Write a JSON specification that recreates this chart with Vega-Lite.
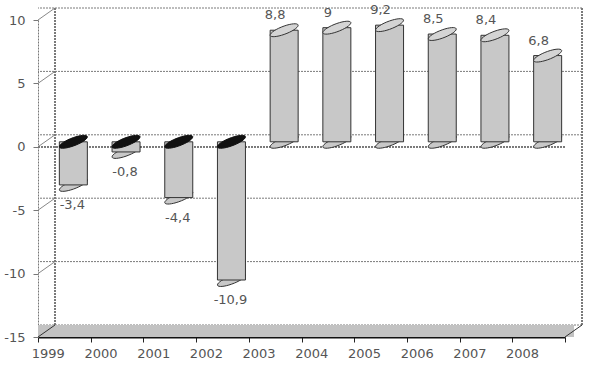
{
  "$schema": "https://vega.github.io/schema/vega-lite/v6.json",
  "width": 527,
  "height": 317,
  "autosize": {"type": "none"},
  "padding": {"left": 38, "top": 20, "right": 24, "bottom": 40},
  "background": "white",
  "config": {"view": {"stroke": null}, "font": "DejaVu Sans"},
  "datasets": {
    "growth": [
      {"year": "1999", "value": -3.4, "label": "-3,4"},
      {"year": "2000", "value": -0.8, "label": "-0,8"},
      {"year": "2001", "value": -4.4, "label": "-4,4"},
      {"year": "2002", "value": -10.9, "label": "-10,9"},
      {"year": "2003", "value": 8.8, "label": "8,8"},
      {"year": "2004", "value": 9, "label": "9"},
      {"year": "2005", "value": 9.2, "label": "9,2"},
      {"year": "2006", "value": 8.5, "label": "8,5"},
      {"year": "2007", "value": 8.4, "label": "8,4"},
      {"year": "2008", "value": 6.8, "label": "6,8"}
    ],
    "ticks": [{"t": 10}, {"t": 5}, {"t": 0}, {"t": -5}, {"t": -10}, {"t": -15}]
  },
  "layer": [
    {
      "data": {"name": "ticks"},
      "mark": {"type": "rule", "color": "#7a7a7a", "strokeDash": [2, 1], "xOffset": 17, "x2Offset": 17, "yOffset": -12},
      "encoding": {
        "y": {
          "field": "t", "type": "quantitative",
          "scale": {"domain": [-15, 10], "nice": false, "zero": false},
          "axis": {"title": null, "grid": false, "values": [-15, -10, -5, 0, 5, 10], "domainColor": "#777", "domainDash": [2, 1], "tickColor": "#777", "tickSize": 5, "labelPadding": 8, "labelFontSize": 13, "labelColor": "#555", "labelExpr": "'' + datum.value"}
        }
      }
    },
    {
      "data": {"name": "growth"},
      "transform": [{"filter": "datum.year == '1999'"}],
      "mark": {"type": "rule", "color": "#888", "x2Offset": 17, "y2Offset": -12},
      "encoding": {"x": {"datum": "1999", "bandPosition": 0}, "x2": {"datum": "1999", "bandPosition": 0}, "y": {"datum": 10}, "y2": {"datum": 10}}
    },
    {
      "data": {"name": "growth"},
      "transform": [{"filter": "datum.year == '1999'"}],
      "mark": {"type": "rule", "color": "#888", "x2Offset": 17, "y2Offset": -12},
      "encoding": {"x": {"datum": "1999", "bandPosition": 0}, "x2": {"datum": "1999", "bandPosition": 0}, "y": {"datum": 5}, "y2": {"datum": 5}}
    },
    {
      "data": {"name": "growth"},
      "transform": [{"filter": "datum.year == '1999'"}],
      "mark": {"type": "rule", "color": "#888", "x2Offset": 17, "y2Offset": -12},
      "encoding": {"x": {"datum": "1999", "bandPosition": 0}, "x2": {"datum": "1999", "bandPosition": 0}, "y": {"datum": 0}, "y2": {"datum": 0}}
    },
    {
      "data": {"name": "growth"},
      "transform": [{"filter": "datum.year == '1999'"}],
      "mark": {"type": "rule", "color": "#888", "x2Offset": 17, "y2Offset": -12},
      "encoding": {"x": {"datum": "1999", "bandPosition": 0}, "x2": {"datum": "1999", "bandPosition": 0}, "y": {"datum": -5}, "y2": {"datum": -5}}
    },
    {
      "data": {"name": "growth"},
      "transform": [{"filter": "datum.year == '1999'"}],
      "mark": {"type": "rule", "color": "#888", "x2Offset": 17, "y2Offset": -12},
      "encoding": {"x": {"datum": "1999", "bandPosition": 0}, "x2": {"datum": "1999", "bandPosition": 0}, "y": {"datum": -10}, "y2": {"datum": -10}}
    },
    {
      "data": {"name": "growth"},
      "mark": {"type": "rule", "color": "#7a7a7a", "strokeDash": [2, 1], "xOffset": 17, "yOffset": -12, "y2Offset": -12},
      "encoding": {
        "x": {"datum": "1999", "bandPosition": 0},
        "y": {"datum": 10},
        "y2": {"datum": -15}
      }
    },
    {
      "data": {"name": "growth"},
      "mark": {"type": "rule", "color": "#7a7a7a", "strokeDash": [2, 1], "xOffset": 17, "yOffset": -12, "y2Offset": -12},
      "encoding": {
        "x": {"datum": "2008", "bandPosition": 1},
        "y": {"datum": 10},
        "y2": {"datum": -15}
      }
    },
    {
      "data": {"name": "growth"},
      "mark": {"type": "rule", "color": "#c2c2c2", "strokeWidth": 12, "xOffset": 9, "x2Offset": 9, "yOffset": -6},
      "encoding": {"y": {"datum": -15}}
    },
    {
      "data": {"name": "growth"},
      "transform": [{"filter": "datum.year == '1999'"}],
      "mark": {"type": "rule", "color": "#333", "x2Offset": 17, "y2Offset": -12},
      "encoding": {"x": {"datum": "1999", "bandPosition": 0}, "x2": {"datum": "1999", "bandPosition": 0}, "y": {"datum": -15}, "y2": {"datum": -15}}
    },
    {
      "data": {"name": "growth"},
      "transform": [{"filter": "datum.year == '2008'"}],
      "mark": {"type": "rule", "color": "#333", "x2Offset": 17, "y2Offset": -12},
      "encoding": {
        "x": {"datum": "2008", "bandPosition": 1},
        "x2": {"datum": "2008", "bandPosition": 1},
        "y": {"datum": -15},
        "y2": {"datum": -15}
      }
    },
    {
      "data": {"name": "growth"},
      "mark": {"type": "rule", "color": "#7a7a7a", "strokeDash": [2, 1]},
      "encoding": {"y": {"datum": 0}}
    },
    {
      "data": {"name": "growth"},
      "transform": [{"filter": "datum.value > 0"}],
      "mark": {"type": "point", "shape": "M1,-0.35C1,-0.1843,0.5523,0.1067,0,0.3C-0.5523,0.4933,-1,0.5157,-1,0.35C-1,0.1843,-0.5523,-0.1067,0,-0.3C0.5523,-0.4933,1,-0.5157,1,-0.35Z", "size": 784, "filled": true, "fill": "#c8c8c8", "stroke": "#333", "strokeWidth": 1, "opacity": 1, "xOffset": 9, "yOffset": -5},
      "encoding": {
        "x": {"field": "year", "type": "nominal"},
        "y": {"datum": 0}
      }
    },
    {
      "data": {"name": "growth"},
      "transform": [{"filter": "datum.value < 0"}],
      "mark": {"type": "point", "shape": "M1,-0.35C1,-0.1843,0.5523,0.1067,0,0.3C-0.5523,0.4933,-1,0.5157,-1,0.35C-1,0.1843,-0.5523,-0.1067,0,-0.3C0.5523,-0.4933,1,-0.5157,1,-0.35Z", "size": 784, "filled": true, "fill": "#c8c8c8", "stroke": "#333", "strokeWidth": 1, "opacity": 1, "xOffset": 9, "yOffset": -5},
      "encoding": {
        "x": {"field": "year", "type": "nominal"},
        "y": {"field": "value", "type": "quantitative"}
      }
    },
    {
      "data": {"name": "growth"},
      "mark": {"type": "bar", "width": 28, "fill": "#c8c8c8", "stroke": "#333", "strokeWidth": 1, "xOffset": 9, "yOffset": -5, "y2Offset": -5},
      "encoding": {
        "x": {
          "field": "year", "type": "nominal",
          "scale": {"paddingInner": 0, "paddingOuter": 0},
          "axis": {"title": null, "labelAngle": 0, "grid": false, "domainColor": "#111", "domainWidth": 2, "tickColor": "#222", "tickBand": "extent", "tickSize": 5, "labelPadding": 11, "labelFontSize": 13, "labelColor": "#555"}
        },
        "y": {"field": "value", "type": "quantitative"},
        "y2": {"datum": 0}
      }
    },
    {
      "data": {"name": "growth"},
      "transform": [{"filter": "datum.value > 0"}],
      "mark": {"type": "point", "shape": "M1,-0.35C1,-0.1843,0.5523,0.1067,0,0.3C-0.5523,0.4933,-1,0.5157,-1,0.35C-1,0.1843,-0.5523,-0.1067,0,-0.3C0.5523,-0.4933,1,-0.5157,1,-0.35Z", "size": 784, "filled": true, "fill": "#d4d4d4", "stroke": "#333", "strokeWidth": 1, "opacity": 1, "xOffset": 9, "yOffset": -5},
      "encoding": {
        "x": {"field": "year", "type": "nominal"},
        "y": {"field": "value", "type": "quantitative"}
      }
    },
    {
      "data": {"name": "growth"},
      "transform": [{"filter": "datum.value < 0"}],
      "mark": {"type": "point", "shape": "M1,-0.35C1,-0.1843,0.5523,0.1067,0,0.3C-0.5523,0.4933,-1,0.5157,-1,0.35C-1,0.1843,-0.5523,-0.1067,0,-0.3C0.5523,-0.4933,1,-0.5157,1,-0.35Z", "size": 784, "filled": true, "fill": "#111", "stroke": "#111", "strokeWidth": 1, "opacity": 1, "xOffset": 9, "yOffset": -5},
      "encoding": {
        "x": {"field": "year", "type": "nominal"},
        "y": {"datum": 0}
      }
    },
    {
      "data": {"name": "growth"},
      "transform": [{"filter": "datum.value > 0"}],
      "mark": {"type": "text", "dy": -20, "fontSize": 13, "color": "#555", "baseline": "middle"},
      "encoding": {
        "x": {"field": "year", "type": "nominal"},
        "y": {"field": "value", "type": "quantitative"},
        "text": {"field": "label"}
      }
    },
    {
      "data": {"name": "growth"},
      "transform": [{"filter": "datum.value < 0"}],
      "mark": {"type": "text", "dy": 15, "dx": 8, "fontSize": 13, "color": "#555", "baseline": "middle"},
      "encoding": {
        "x": {"field": "year", "type": "nominal"},
        "y": {"field": "value", "type": "quantitative"},
        "text": {"field": "label"}
      }
    }
  ]
}
